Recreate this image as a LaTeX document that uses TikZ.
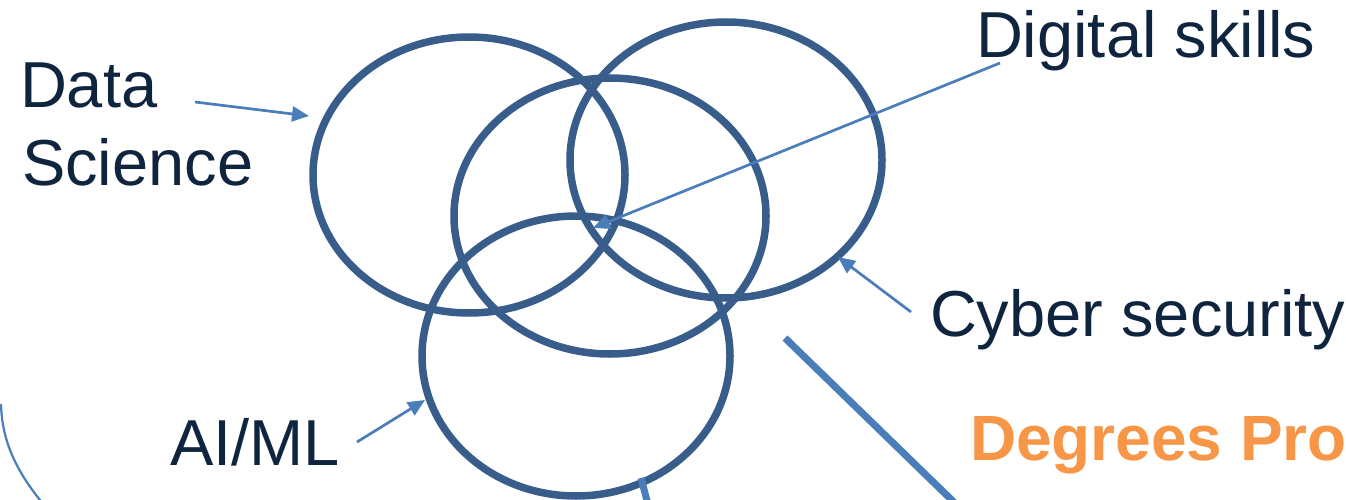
\documentclass[tikz,border=0pt]{standalone}
\usepackage{fontspec}
\setmainfont{Liberation Sans}
\usetikzlibrary{shapes.geometric,arrows.meta}
\definecolor{ringblue}{HTML}{385D8A}
\definecolor{lineblue}{HTML}{4A7EBB}
\definecolor{textnavy}{HTML}{0F243E}
\definecolor{degorange}{HTML}{F79646}
\tikzset{
  ring/.style={draw=ringblue, line width=7.5pt, ellipse, inner sep=0pt, outer sep=0pt, minimum width=312pt, minimum height=276pt},
  lbl/.style={text=textnavy, inner sep=0pt, outer sep=0pt, anchor=base west, font=\fontsize{65}{77}\selectfont},
  degree/.style={text=degorange, inner sep=0pt, outer sep=0pt, anchor=base west, font=\fontsize{64}{77}\selectfont\bfseries},
  pointer/.style={draw=lineblue, line width=2.7pt, -{Triangle[length=17pt,width=15pt]}},
  bar/.style={draw=lineblue, line width=7pt},
  barshadow/.style={draw=black, opacity=0.18, line width=7pt},
  thinarc/.style={draw=lineblue, line width=2.2pt}
}
\begin{document}
\begin{tikzpicture}[x=1pt,y=-1pt]
\useasboundingbox (0,0) rectangle (1346,500);
\clip (0,0) rectangle (1346,500);
% circles
\node[ring] (ds) at (469,175) {};
\node[ring] (dg) at (610,216) {};
\node[ring] (cy) at (726,160) {};
\node[ring, minimum width=308pt, minimum height=280pt] (ai) at (576,356) {};
% labels
\node[lbl] (tdata) at (20,108) {Data};
\node[lbl] (tsci) at (22,185) {Science};
\node[lbl] (tdig) at (976,58) {Digital skills};
\node[lbl] (tcyb) at (930,336) {Cyber security};
\node[lbl] (tai) at (170,465) {AI/ML};
\node[degree] (tdeg) at (970,460) {Degrees Pro};
% arrow coordinates
\coordinate (dsS) at (195,102);
\coordinate (dsT) at (309,116);
\coordinate (dgS) at (1000,63);
\coordinate (dgT) at (593,228);
\coordinate (cyS) at (911,312);
\coordinate (cyT) at (838,257);
\coordinate (aiS) at (357,442);
\coordinate (aiT) at (425,400);
\draw[pointer] (dsS) -- (dsT);
\draw[pointer] (dgS) -- (dgT);
\draw[pointer] (cyS) -- (cyT);
\draw[pointer] (aiS) -- (aiT);
% bars
\coordinate (b1S) at (785,338);
\coordinate (b1E) at (962,510);
\coordinate (b2S) at (641,478);
\coordinate (b2E) at (650,512);
\draw[barshadow] ([shift={(3,3)}]b1S) -- ([shift={(3,3)}]b1E);
\draw[bar] (b1S) -- (b1E);
\draw[bar] (b2S) -- (b2E);
% left arc
\coordinate (arcS) at (1,404);
\coordinate (arcE) at (44,505);
\draw[thinarc] (arcS) .. controls (2,440) and (15,470) .. (arcE);
\end{tikzpicture}
\end{document}
